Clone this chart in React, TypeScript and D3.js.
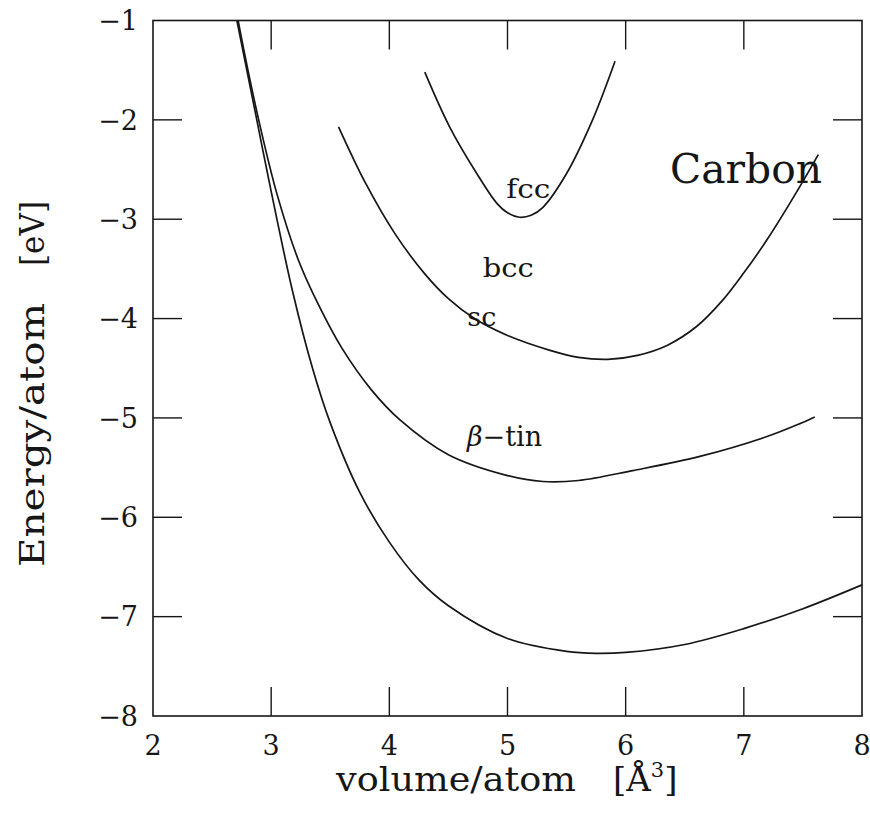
import React from "react";
import * as d3 from "d3";

// ---- data ----
const diamondX = [2.71, 2.87, 3.0, 3.18, 3.35, 3.5, 3.75, 4.0, 4.25, 4.5, 5.0, 5.5, 5.75, 6.0, 6.5, 7.0, 7.5, 8.0];
const diamondY = [-1.0, -1.95, -2.72, -3.72, -4.5, -5.05, -5.75, -6.25, -6.63, -6.89, -7.22, -7.35, -7.37, -7.36, -7.28, -7.12, -6.92, -6.68];

const betaTinX = [2.72, 2.8, 2.9, 3.05, 3.23, 3.4, 3.6, 3.85, 4.09, 4.5, 5.0, 5.3, 5.6, 6.06, 6.62, 7.19, 7.47, 7.6];
const betaTinY = [-1.0, -1.48, -2.03, -2.75, -3.41, -3.86, -4.3, -4.72, -5.02, -5.37, -5.58, -5.64, -5.63, -5.53, -5.39, -5.19, -5.06, -4.99];

const scX = [3.57, 3.8, 4.05, 4.3, 4.5, 4.72, 5.0, 5.36, 5.6, 5.85, 6.1, 6.35, 6.6, 6.81, 7.0, 7.2, 7.47, 7.63];
const scY = [-2.07, -2.64, -3.15, -3.55, -3.8, -4.0, -4.17, -4.32, -4.39, -4.41, -4.37, -4.27, -4.08, -3.83, -3.54, -3.2, -2.68, -2.35];

const fccX = [4.3, 4.51, 4.74, 4.91, 5.0, 5.1, 5.2, 5.3, 5.5, 5.72, 5.91];
const fccY = [-1.52, -2.07, -2.54, -2.84, -2.935, -2.98, -2.96, -2.88, -2.54, -2.0, -1.41];

const xTickLabels = [2, 3, 4, 5, 6, 7, 8];
const xTickMarks = [3, 4, 5, 6, 7];
const yTickLabels = [-1, -2, -3, -4, -5, -6, -7, -8];
const yTickMarks = [-2, -3, -4, -5, -6, -7];

const curveLabels = [
  { text: "fcc", x: 4.99, y: -2.79, len: 44 },
  { text: "bcc", x: 4.79, y: -3.58, len: 51 },
  { text: "sc", x: 4.66, y: -4.07, len: 29 },
];

const W = 870;
const H = 813;
const FONT = "'DejaVu Serif', serif";

export default function App() {
  const x = d3.scaleLinear().domain([2, 8]).range([153, 862]);
  const y = d3.scaleLinear().domain([-8, -1]).range([716, 20.5]);

  const line = d3
    .line<[number, number]>()
    .x((d) => x(d[0]))
    .y((d) => y(d[1]))
    .curve(d3.curveCatmullRom.alpha(0.5));

  const series = [
    [diamondX, diamondY],
    [betaTinX, betaTinY],
    [scX, scY],
    [fccX, fccY],
  ].map(([xs, ys]) => xs.map((v, i) => [v, ys[i]] as [number, number]));

  const ink = "#161616";
  const tickLen = 29;

  return (
    <svg
      width={W}
      height={H}
      style={{ position: "absolute", left: 0, top: 0, background: "#fff" }}
    >
      <rect x={0} y={0} width={W} height={H} fill="#fff" />
      {/* frame */}
      <rect
        x={x(2)}
        y={y(-1)}
        width={x(8) - x(2)}
        height={y(-8) - y(-1)}
        fill="none"
        stroke={ink}
        strokeWidth={1.6}
      />
      {/* x ticks (bottom and top, inward) */}
      {xTickMarks.map((t) => (
        <g key={"xt" + t}>
          <line x1={x(t)} x2={x(t)} y1={y(-8)} y2={y(-8) - tickLen} stroke={ink} strokeWidth={1.4} />
          <line x1={x(t)} x2={x(t)} y1={y(-1)} y2={y(-1) + tickLen} stroke={ink} strokeWidth={1.4} />
        </g>
      ))}
      {/* y ticks (left and right, inward) */}
      {yTickMarks.map((t) => (
        <g key={"yt" + t}>
          <line x1={x(2)} x2={x(2) + tickLen} y1={y(t)} y2={y(t)} stroke={ink} strokeWidth={1.4} />
          <line x1={x(8)} x2={x(8) - tickLen} y1={y(t)} y2={y(t)} stroke={ink} strokeWidth={1.4} />
        </g>
      ))}
      {/* tick labels */}
      {xTickLabels.map((t) => (
        <text
          key={"xl" + t}
          x={x(t)}
          y={755}
          textAnchor="middle"
          fontFamily={FONT}
          fontSize={27}
          fill={ink}
        >
          {t}
        </text>
      ))}
      {yTickLabels.map((t) => (
        <text
          key={"yl" + t}
          x={138}
          y={y(t)}
          dy="0.36em"
          textAnchor="end"
          fontFamily={FONT}
          fontSize={27}
          fill={ink}
        >
          {"\u2212" + Math.abs(t)}
        </text>
      ))}
      {/* curves */}
      {series.map((pts, i) => (
        <path key={"c" + i} d={line(pts) || ""} fill="none" stroke={ink} strokeWidth={1.7} />
      ))}
      {/* curve labels */}
      {curveLabels.map((l) => (
        <text
          key={l.text}
          x={x(l.x)}
          y={y(l.y)}
          fontFamily={FONT}
          fontSize={26}
          textLength={l.len}
          lengthAdjust="spacingAndGlyphs"
          fill={ink}
        >
          {l.text}
        </text>
      ))}
      <text x={467} y={446} fontFamily={FONT} fontSize={27} fill={ink}>
        <tspan fontStyle="italic">β</tspan>
        <tspan>{"\u2212tin"}</tspan>
      </text>
      <text
        x={670}
        y={183}
        fontFamily={FONT}
        fontSize={41}
        textLength={152}
        lengthAdjust="spacingAndGlyphs"
        fill={ink}
      >
        Carbon
      </text>
      {/* axis titles */}
      <text
        x={336}
        y={791}
        fontFamily={FONT}
        fontSize={34}
        textLength={240}
        lengthAdjust="spacingAndGlyphs"
        fill={ink}
      >
        volume/atom
      </text>
      <text x={613} y={791} fontFamily={FONT} fontSize={34} fill={ink}>
        [Å<tspan dy={-14} fontSize={21}>3</tspan>
        <tspan dy={14}>]</tspan>
      </text>
      <text
        transform="translate(44,567) rotate(-90)"
        fontFamily={FONT}
        fontSize={34}
        textLength={264}
        lengthAdjust="spacingAndGlyphs"
        fill={ink}
      >
        Energy/atom
      </text>
      <text
        transform="translate(44,266) rotate(-90)"
        fontFamily={FONT}
        fontSize={34}
        textLength={65}
        lengthAdjust="spacingAndGlyphs"
        fill={ink}
      >
        [eV]
      </text>
    </svg>
  );
}
